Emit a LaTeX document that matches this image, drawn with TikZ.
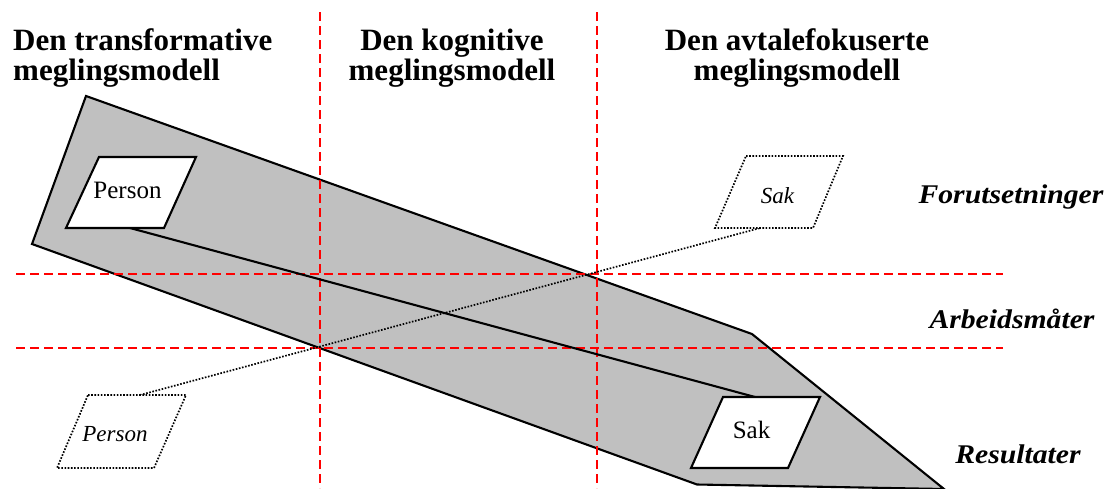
\documentclass[tikz,border=0pt]{standalone}
\usepackage{fontspec}
\setmainfont{Liberation Serif}
\newfontfamily\labelfont[FakeStretch=1.1]{Liberation Serif}
\definecolor{bandgrey}{HTML}{C0C0C0}
\begin{document}
\begin{tikzpicture}[x=1pt,y=-1pt,
  band/.style={fill=bandgrey,draw=black,line width=2.1pt,line join=miter},
  guide/.style={draw=red,line width=2pt,dash pattern=on 9pt off 5pt},
  solidbox/.style={fill=white,draw=black,line width=2.1pt},
  dotbox/.style={fill=white,draw=black,line width=1.7pt,dash pattern=on 1.6pt off 1.6pt},
  link/.style={draw=black,line width=2.1pt},
  dotlink/.style={draw=black,line width=1.7pt,dash pattern=on 1.6pt off 1.6pt},
  title/.style={font=\fontsize{31}{30}\selectfont\bfseries,inner sep=0pt},
  rowlabel/.style={font=\labelfont\fontsize{27}{27}\selectfont\bfseries\itshape,inner sep=0pt,anchor=base},
  boxtext/.style={font=\fontsize{25}{25}\selectfont,inner sep=0pt,anchor=base},
  ghosttext/.style={font=\fontsize{23}{23}\selectfont\itshape,inner sep=0pt,anchor=base}]
\useasboundingbox (0,0) rectangle (1110,488);

% shaded band of the three models
\path[band] (86,96) -- (752,334) -- (944,489) -- (697,484.5) -- (32,244) -- cycle;

% column and row guides
\draw[guide] (320,12) -- (320,488);
\draw[guide] (597,12) -- (597,488);
\draw[guide] (16,274) -- (1003,274);
\draw[guide] (16,348) -- (1003,348);

% column headings
\node[title,anchor=west,align=left] (hTrans) at (13,58) {Den transformative\\meglingsmodell};
\node[title,align=center] (hKogn) at (452,58) {Den kognitive\\meglingsmodell};
\node[title,align=center] (hAvtale) at (797,58) {Den avtalefokuserte\\meglingsmodell};

% row headings
\node[rowlabel] (rForut) at (1011,203) {Forutsetninger};
\node[rowlabel] (rArbeid) at (1012,328) {Arbeidsmåter};
\node[rowlabel] (rResultat) at (1018,463) {Resultater};

% connector end points on the boxes
\coordinate (personOut) at (130,228);
\coordinate (sakIn) at (755,397);
\coordinate (ghostPersonOut) at (140,395);
\coordinate (ghostSakIn) at (760,228);

\draw[link] (personOut) -- (sakIn);
\draw[dotlink] (ghostPersonOut) -- (ghostSakIn);

% solid boxes
\draw[solidbox] (99,157) -- (196,157) -- (164,228) -- (66,228) -- cycle;
\draw[solidbox] (723,397) -- (820,397) -- (788,468) -- (691,468) -- cycle;
% dotted boxes
\draw[dotbox] (746,156) -- (843,156) -- (813,228) -- (715,228) -- cycle;
\draw[dotbox] (88,395) -- (186,395) -- (154,468) -- (57,468) -- cycle;

\node[boxtext] (tPerson) at (127.5,198) {Person};
\node[boxtext] (tSak) at (751.5,438) {Sak};
\node[ghosttext] (tGhostSak) at (777.5,203) {Sak};
\node[ghosttext] (tGhostPerson) at (115,441.5) {Person};
\end{tikzpicture}
\end{document}
